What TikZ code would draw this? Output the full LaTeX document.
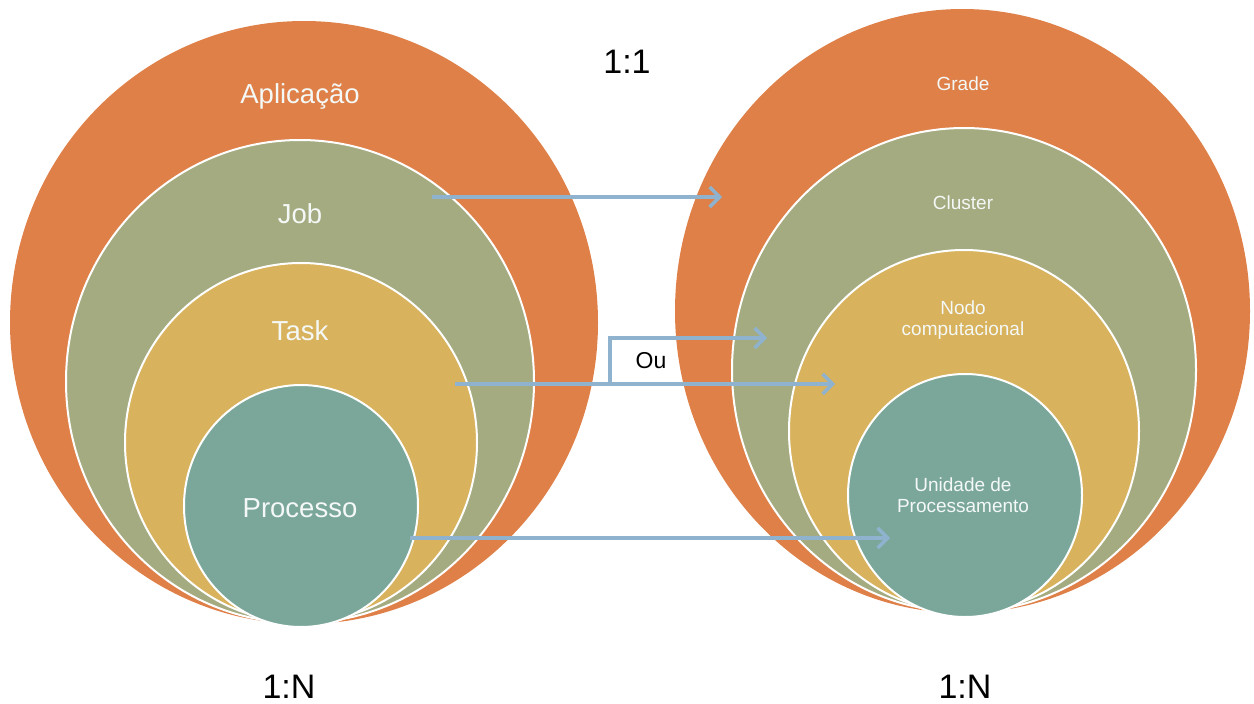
\documentclass[tikz,border=0pt]{standalone}
\usepackage{fontspec}
\setmainfont{Liberation Sans}
\usetikzlibrary{shapes.geometric,arrows.meta}
\definecolor{corange}{HTML}{DE8048}
\definecolor{cgreen}{HTML}{A4AB80}
\definecolor{cyellow}{HTML}{D8B25D}
\definecolor{cteal}{HTML}{7BA79B}
\definecolor{carrow}{HTML}{8FB2CE}
\definecolor{ctext}{HTML}{F4F8F6}
\tikzset{
  layer/.style={ellipse, inner sep=0pt, draw=white, line width=2pt},
  biglabel/.style={text=ctext, font=\fontsize{27.5}{32}\selectfont, inner sep=0pt},
  smalllabel/.style={text=ctext, font=\fontsize{19}{21}\selectfont, inner sep=0pt, align=center},
  ratio/.style={text=black, font=\fontsize{34}{40}\selectfont, inner sep=0pt},
  link/.style={draw=carrow, line width=3.5pt},
  linkarrow/.style={link, -{Straight Barb[length=10pt,width=20pt,line width=3.5pt]}}
}
\begin{document}
\begin{tikzpicture}[x=1pt,y=-1pt]
\useasboundingbox (0,0) rectangle (1254,704);
% left nested ellipses
\node[layer, draw=none, fill=corange, minimum width=588pt, minimum height=603pt] (app) at (304,322.5) {};
\node[layer, fill=cgreen, minimum width=468pt, minimum height=483pt] (job) at (300,381.5) {};
\node[layer, fill=cyellow, minimum width=352pt, minimum height=359pt] (task) at (301,442.5) {};
\node[layer, fill=cteal, minimum width=234pt, minimum height=242pt] (proc) at (301,506) {};
% right nested ellipses
\node[layer, draw=none, fill=corange, minimum width=575pt, minimum height=604pt] (grade) at (962.5,311) {};
\node[layer, fill=cgreen, minimum width=464pt, minimum height=484pt] (cluster) at (964,370) {};
\node[layer, fill=cyellow, minimum width=350pt, minimum height=362pt] (nodo) at (964,431) {};
\node[layer, fill=cteal, minimum width=234pt, minimum height=243pt] (unid) at (965,495.5) {};
% left labels
\node[biglabel] (tapp) at (300,96) {Aplicação};
\node[biglabel] (tjob) at (300,214) {Job};
\node[biglabel] (ttask) at (300,331) {Task};
\node[biglabel] (tproc) at (300,508) {Processo};
% right labels
\node[smalllabel] (tgrade) at (963,84) {Grade};
\node[smalllabel] (tcluster) at (963,203) {Cluster};
\node[smalllabel] (tnodo) at (963,320) {Nodo\\computacional};
\node[smalllabel] (tunid) at (963,495) {Unidade de\\Processamento};
% ratios
\node[ratio] (r11) at (627,62) {1:1};
\node[ratio] (r1nl) at (289,687) {1:N};
\node[ratio] (r1nr) at (965,687) {1:N};
% connectors
\coordinate (a1s) at (432,197);
\coordinate (a1e) at (722,197);
\coordinate (a2s) at (455,384);
\coordinate (a2e) at (835,384);
\coordinate (a2b) at (610,384);
\coordinate (a2c) at (610,338);
\coordinate (a2d) at (767,338);
\coordinate (a3s) at (410,538);
\coordinate (a3e) at (890,538);
\draw[linkarrow] (a1s) -- (a1e);
\draw[linkarrow] (a2s) -- (a2e);
\draw[linkarrow, line join=miter] (a2b) -- (a2c) -- (a2d);
\draw[linkarrow] (a3s) -- (a3e);
\node[text=black, font=\fontsize{23}{26}\selectfont, inner sep=0pt] (ou) at (651,361) {Ou};
\end{tikzpicture}
\end{document}
